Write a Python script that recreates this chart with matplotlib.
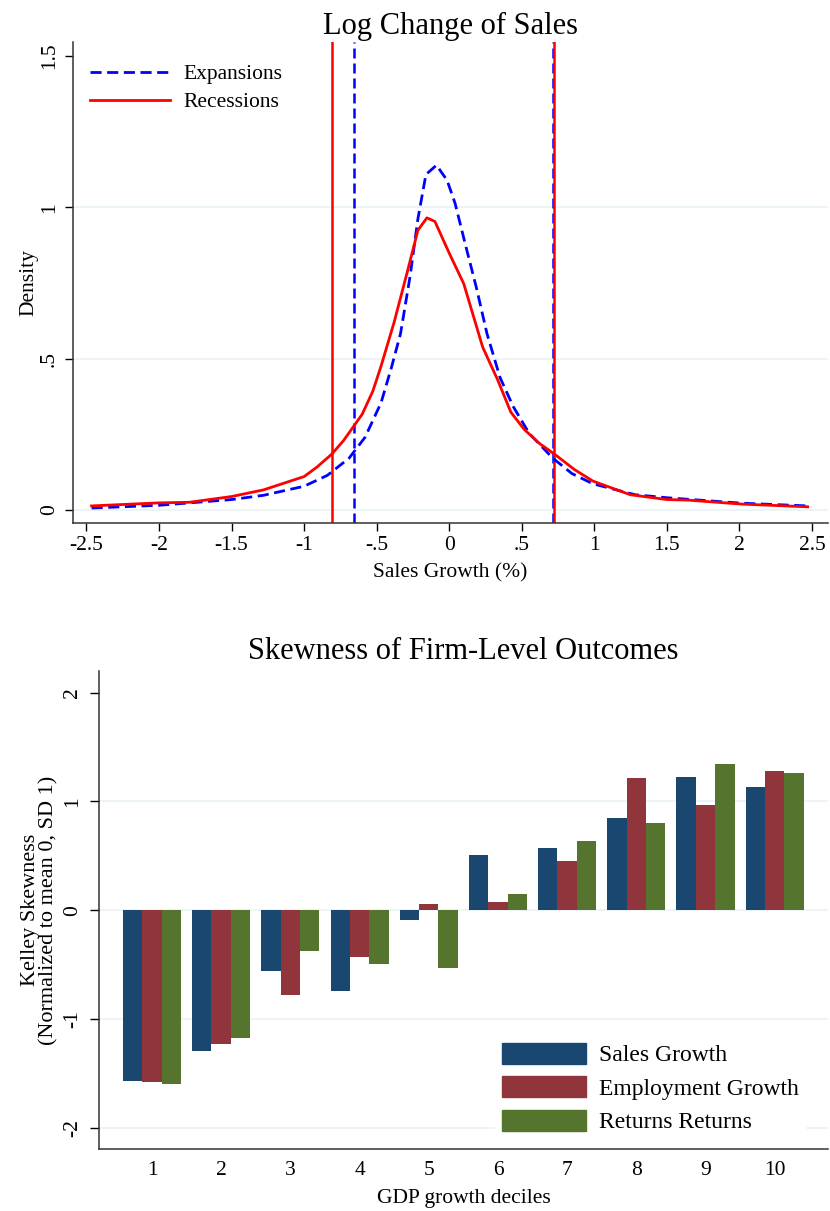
import numpy as np
import matplotlib
matplotlib.use("Agg")
import matplotlib.pyplot as plt
from matplotlib.patches import Patch

plt.rcParams["font.family"] = ["Liberation Serif", "DejaVu Serif"]

# --- top panel: kernel densities of log sales change ---
rec_x = [-2.465, -2.0, -1.79, -1.5, -1.28, -1.0, -0.91, -0.81, -0.73, -0.6, -0.527, -0.47,
         -0.38, -0.29, -0.216, -0.154, -0.099, 0.0, 0.10, 0.23, 0.333, 0.424, 0.516, 0.625,
         0.72, 0.863, 0.99, 1.247, 1.5, 1.65, 2.015, 2.47]
rec_y = [0.013, 0.023, 0.025, 0.044, 0.066, 0.11, 0.142, 0.184, 0.228, 0.316, 0.392, 0.475,
         0.62, 0.785, 0.924, 0.965, 0.953, 0.848, 0.747, 0.538, 0.43, 0.323, 0.266, 0.218,
         0.186, 0.133, 0.095, 0.05, 0.034, 0.032, 0.019, 0.01]
exp_x = [-2.465, -2.0, -1.5, -1.28, -1.0, -0.84, -0.69, -0.58, -0.47, -0.40, -0.336, -0.27,
         -0.216, -0.161, -0.088, -0.015, 0.04, 0.113, 0.187, 0.26, 0.35, 0.44, 0.55, 0.713,
         0.845, 0.99, 1.28, 1.5, 2.015, 2.47]
exp_y = [0.006, 0.015, 0.034, 0.048, 0.078, 0.114, 0.171, 0.24, 0.354, 0.468, 0.582, 0.772,
         0.962, 1.108, 1.139, 1.089, 1.013, 0.873, 0.734, 0.582, 0.437, 0.342, 0.253, 0.171,
         0.12, 0.086, 0.05, 0.04, 0.022, 0.013]
rec_cut = [-0.808, 0.72]
exp_cut = [-0.654, 0.715]

xticks_top = [-2.5, -2, -1.5, -1, -0.5, 0, 0.5, 1, 1.5, 2, 2.5]
xlabels_top = ["-2.5", "-2", "-1.5", "-1", "-.5", "0", ".5", "1", "1.5", "2", "2.5"]
yticks_top = [0, 0.5, 1, 1.5]
ylabels_top = ["0", ".5", "1", "1.5"]

# --- bottom panel: Kelley skewness by GDP growth decile ---
deciles = list(range(1, 11))
sales = [-1.57, -1.29, -0.56, -0.74, -0.087, 0.503, 0.573, 0.844, 1.222, 1.128]
employment = [-1.576, -1.229, -0.78, -0.43, 0.059, 0.073, 0.451, 1.219, 0.969, 1.281]
returns = [-1.597, -1.177, -0.372, -0.497, -0.53, 0.153, 0.635, 0.802, 1.347, 1.257]
yticks_bot = [-2, -1, 0, 1, 2]

grid_c = "#eaf2f3"
navy, maroon, forest = "#1a476f", "#90353b", "#55752f"

fig = plt.figure(figsize=(8.3, 12.11), dpi=100)

ax1 = fig.add_axes([0.0876, 0.568, 0.9100, 0.3973])
for g in [0, 0.5, 1]:
    ax1.axhline(g, color=grid_c, lw=1.2, zorder=0)
for v in exp_cut:
    ax1.axvline(v, color="#0000ff", lw=1.8, dashes=(4, 2), zorder=2)
for v in rec_cut:
    ax1.axvline(v, color="#ff0000", lw=1.8, zorder=2)
ax1.plot(exp_x, exp_y, color="#0000ff", lw=2.0, dashes=(4, 2), label="Expansions", zorder=3)
ax1.plot(rec_x, rec_y, color="#ff0000", lw=2.0, label="Recessions", zorder=4)
ax1.set_xlim(-2.595, 2.61)
ax1.set_ylim(-0.044, 1.546)
ax1.set_xticks(xticks_top, xlabels_top)
ax1.set_yticks(yticks_top, ylabels_top)
for lab in ax1.get_yticklabels():
    lab.set_rotation(90)
    lab.set_va("center")
ax1.tick_params(labelsize=15.5, length=6, width=1, direction="out")
ax1.tick_params(axis="y", pad=4)
for s in ["left", "bottom"]:
    ax1.spines[s].set_linewidth(1.1)
    ax1.spines[s].set_color("#333333")
ax1.spines[["top", "right"]].set_visible(False)
ax1.set_xlabel("Sales Growth (%)", fontsize=15.5, labelpad=6)
ax1.set_ylabel("Density", fontsize=15.5, labelpad=1)
ax1.set_title("Log Change of Sales", fontsize=22, pad=6)
ax1.legend(loc="upper left", bbox_to_anchor=(0.0115, 0.972), borderaxespad=0, frameon=False,
           fontsize=15.5, handlelength=3.7, handletextpad=0.65, labelspacing=0.37)

ax2 = fig.add_axes([0.1196, 0.0512, 0.8780, 0.3947])
for g in [-2, -1, 0, 1]:
    ax2.axhline(g, color=grid_c, lw=1.2, zorder=0)
x = np.array(deciles)
w = 0.28
ax2.bar(x - w, sales, w, color=navy, zorder=2)
ax2.bar(x, employment, w, color=maroon, zorder=2)
ax2.bar(x + w, returns, w, color=forest, zorder=2)
ax2.set_xlim(0.238, 10.77)
ax2.set_ylim(-2.194, 2.198)
ax2.set_xticks(deciles, [str(d) for d in deciles])
ax2.set_yticks(yticks_bot, [str(t) for t in yticks_bot])
for lab in ax2.get_yticklabels():
    lab.set_rotation(90)
    lab.set_va("center")
ax2.tick_params(axis="y", labelsize=15.5, length=6.5, width=1, pad=6)
ax2.tick_params(axis="x", labelsize=15.5, length=0, pad=9)
for s in ["left", "bottom"]:
    ax2.spines[s].set_linewidth(1.1)
    ax2.spines[s].set_color("#333333")
ax2.spines[["top", "right"]].set_visible(False)
ax2.set_xlabel("GDP growth deciles", fontsize=15.5, labelpad=6)
ax2.set_ylabel("Kelley Skewness\n(Normalized to mean 0, SD 1)", fontsize=16, labelpad=3,
               linespacing=0.95)
ax2.set_title("Skewness of Firm-Level Outcomes", fontsize=22, pad=9)
handles = [Patch(color=navy), Patch(color=maroon), Patch(color=forest)]
ax2.legend(handles, ["Sales Growth", "Employment Growth", "Returns Returns"],
           loc="lower left", bbox_to_anchor=(0.543, 0.0178), borderaxespad=0,
           fontsize=17, handlelength=3.55, handleheight=1.0, labelspacing=0.42,
           handletextpad=0.55, borderpad=0.3, frameon=True, fancybox=False,
           edgecolor="none", facecolor="white", framealpha=1)

fig.savefig("out.png", dpi=100, facecolor="white")
